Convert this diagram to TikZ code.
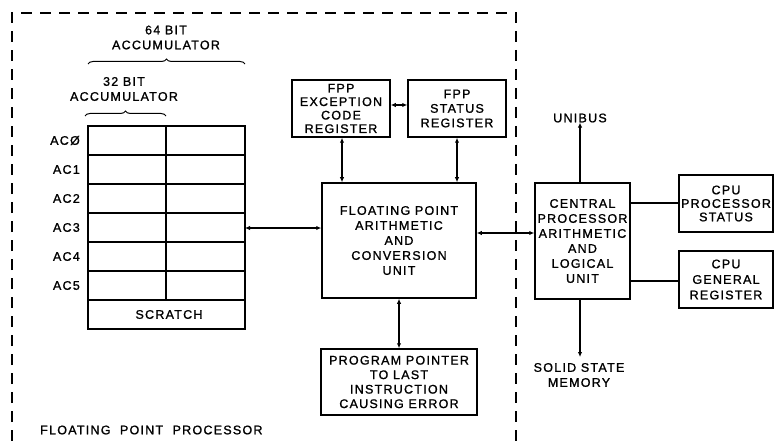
\documentclass[tikz,border=0pt]{standalone}
\usepackage{fontspec}
\setmainfont{Liberation Sans}[LetterSpace=10,FakeBold=1.2]
\usetikzlibrary{arrows.meta,decorations.pathreplacing}
\tikzset{
  blk/.style={draw,line width=1.5pt,align=center,inner sep=0pt,font=\fontsize{12.5}{14.5}\selectfont},
  lbl/.style={align=center,inner sep=0pt,font=\fontsize{12.5}{15}\selectfont},
  conn/.style={line width=1.1pt},
  bi/.style={conn,{Latex[length=5pt,width=4.5pt]}-{Latex[length=5pt,width=4.5pt]}},
  uni/.style={conn,-{Latex[length=5pt,width=4.5pt]}},
  bnd/.style={line width=1.7pt,dash pattern=on 11pt off 8pt},
  brc/.style={line width=1pt,decorate,decoration={brace,amplitude=5pt}}
}
\begin{document}
\begin{tikzpicture}[x=1pt,y=-1pt]
\useasboundingbox (0,0) rectangle (774,441);
% boundary
\draw[bnd] (12,441) -- (12,13) -- (516,13) -- (516,441);
% accumulator grid
\foreach \yy in {155,184,213,242,271,300} \draw[line width=1.1pt] (88,\yy) -- (245,\yy);
\draw[line width=1.1pt] (166,126) -- (166,300);
\node[draw,line width=1.5pt,minimum width=157pt,minimum height=203pt,inner sep=0pt] (acc) at (166.5,227.5) {};
\node[lbl,anchor=east] (ac0) at (80,140.5) {ACØ};
\node[lbl,anchor=east] (ac1) at (80,169.5) {AC1};
\node[lbl,anchor=east] (ac2) at (80,198.5) {AC2};
\node[lbl,anchor=east] (ac3) at (80,227.5) {AC3};
\node[lbl,anchor=east] (ac4) at (80,256.5) {AC4};
\node[lbl,anchor=east] (ac5) at (80,285.5) {AC5};
\node[lbl] (scr) at (169,314.5) {SCRATCH};
\coordinate (acr) at (245,228);
% braces
\draw[brc] (88,64) -- (245,64);
\node[lbl] (b64) at (166,37.5) {64 BIT\\ACCUMULATOR};
\draw[brc] (85,116) -- (166,116);
\node[lbl] (b32) at (124,89) {32 BIT\\ACCUMULATOR};
% boxes
\node[blk,minimum width=98pt,minimum height=57pt,font=\fontsize{12.5}{13.5}\selectfont] (exc) at (341,108.5) {FPP\\EXCEPTION\\CODE\\REGISTER};
\node[blk,minimum width=98pt,minimum height=57pt] (sts) at (457,108.5) {FPP\\STATUS\\REGISTER};
\node[blk,minimum width=154pt,minimum height=115pt,font=\fontsize{12.5}{15}\selectfont] (fpu) at (399,240.5) {FLOATING POINT\\ARITHMETIC\\AND\\CONVERSION\\UNIT};
\node[blk,minimum width=156pt,minimum height=66pt] (ppt) at (399,382) {PROGRAM POINTER\\TO LAST\\INSTRUCTION\\CAUSING ERROR};
\node[blk,minimum width=95pt,minimum height=116pt,font=\fontsize{12.5}{15}\selectfont] (alu) at (582.5,241) {CENTRAL\\PROCESSOR\\ARITHMETIC\\AND\\LOGICAL\\UNIT};
\node[blk,minimum width=94pt,minimum height=57pt,font=\fontsize{12.5}{13.5}\selectfont] (cps) at (726,203.5) {CPU\\PROCESSOR\\STATUS};
\node[blk,minimum width=94pt,minimum height=57pt,font=\fontsize{12.5}{15.5}\selectfont] (cgr) at (726,279.5) {CPU\\GENERAL\\REGISTER};
% outside labels
\node[lbl] (uni) at (580,118) {UNIBUS};
\node[lbl] (mem) at (579,375) {SOLID STATE\\MEMORY};
\node[lbl,anchor=west] (fpp) at (40,430) {FLOATING\ \ POINT\ \ PROCESSOR};
% connectors
\draw[bi] (exc.east |- 0,105) -- (sts.west |- 0,105);
\draw[bi] (exc.south -| 342,0) -- (fpu.north -| 342,0);
\draw[bi] (sts.south -| 457,0) -- (fpu.north -| 457,0);
\draw[bi] (acr) -- (fpu.west |- acr);
\draw[bi] (fpu.east |- 0,233) -- (alu.west |- 0,233);
\draw[bi] (fpu.south) -- (ppt.north);
\draw[uni] (alu.north -| 580,0) -- (uni.south);
\draw[uni] (alu.south -| 580,0) -- (580,357) coordinate (memtip);
\draw[conn] (alu.east |- 0,203) -- (cps.west |- 0,203);
\draw[conn] (alu.east |- 0,281) -- (cgr.west |- 0,281);
\end{tikzpicture}
\end{document}
